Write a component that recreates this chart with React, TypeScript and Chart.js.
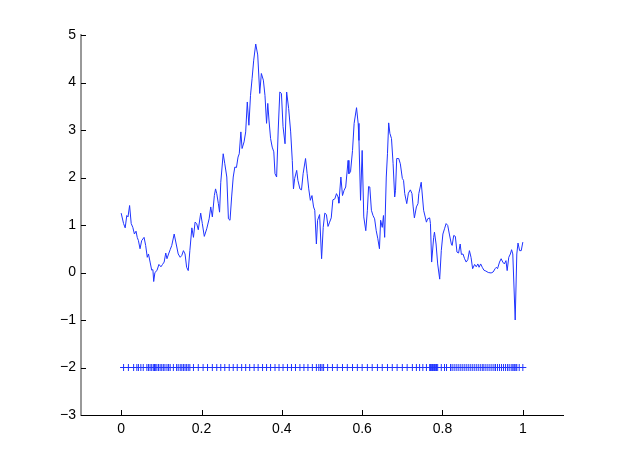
import React, { useEffect, useRef } from "react";
import { Chart, registerables } from "chart.js";

Chart.register(...registerables);

// Curve samples (x, y)
const curveX = [
  0.0, 0.006, 0.01, 0.014, 0.017, 0.021, 0.025, 0.029, 0.033, 0.037, 0.04, 0.043, 0.047, 0.051, 0.057, 0.061,
  0.065, 0.068, 0.072, 0.076, 0.079, 0.081, 0.084, 0.089, 0.094, 0.099, 0.103, 0.107, 0.111, 0.114, 0.118, 0.122,
  0.126, 0.132, 0.137, 0.142, 0.147, 0.151, 0.155, 0.159, 0.163, 0.167, 0.171, 0.176, 0.18, 0.184, 0.188, 0.192,
  0.198, 0.202, 0.207, 0.213, 0.219, 0.223, 0.227, 0.232, 0.235, 0.238, 0.242, 0.245, 0.248, 0.254, 0.258, 0.263,
  0.267, 0.271, 0.275, 0.279, 0.283, 0.287, 0.291, 0.294, 0.298, 0.301, 0.306, 0.31, 0.314, 0.318, 0.322, 0.326,
  0.33, 0.335, 0.34, 0.345, 0.349, 0.354, 0.358, 0.362, 0.365, 0.368, 0.372, 0.376, 0.38, 0.383, 0.387, 0.391,
  0.395, 0.399, 0.403, 0.408, 0.412, 0.417, 0.422, 0.426, 0.429, 0.432, 0.437, 0.44, 0.445, 0.449, 0.453, 0.455,
  0.459, 0.463, 0.467, 0.471, 0.475, 0.479, 0.482, 0.486, 0.489, 0.494, 0.499, 0.503, 0.507, 0.511, 0.515, 0.519,
  0.523, 0.527, 0.532, 0.536, 0.54, 0.542, 0.547, 0.551, 0.555, 0.559, 0.565, 0.567, 0.571, 0.576, 0.58, 0.586,
  0.59, 0.592, 0.596, 0.6, 0.604, 0.609, 0.613, 0.616, 0.619, 0.623, 0.627, 0.631, 0.635, 0.639, 0.643, 0.646,
  0.65, 0.653, 0.656, 0.66, 0.663, 0.666, 0.669, 0.673, 0.677, 0.681, 0.683, 0.686, 0.691, 0.695, 0.7, 0.703,
  0.706, 0.711, 0.715, 0.72, 0.724, 0.727, 0.73, 0.735, 0.739, 0.741, 0.747, 0.753, 0.76, 0.763, 0.768, 0.77,
  0.773, 0.778, 0.78, 0.784, 0.788, 0.793, 0.797, 0.801, 0.805, 0.809, 0.813, 0.817, 0.822, 0.824, 0.828, 0.832,
  0.836, 0.84, 0.844, 0.847, 0.851, 0.855, 0.859, 0.863, 0.867, 0.871, 0.875, 0.88, 0.884, 0.888, 0.891, 0.895,
  0.899, 0.903, 0.908, 0.914, 0.921, 0.926, 0.931, 0.934, 0.937, 0.942, 0.946, 0.95, 0.954, 0.958, 0.961, 0.965,
  0.969, 0.972, 0.975, 0.981, 0.985, 0.988, 0.992, 0.996, 1.0,
];
const curveY = [
  1.25, 1.03, 0.94, 1.2, 1.17, 1.41, 1.03, 0.95, 0.81, 0.87, 0.74, 0.67, 0.5, 0.67, 0.74, 0.57,
  0.32, 0.39, 0.22, 0.05, 0.06, -0.19, 0.0, 0.04, 0.17, 0.12, 0.17, 0.22, 0.41, 0.29, 0.39, 0.48,
  0.57, 0.81, 0.6, 0.39, 0.32, 0.36, 0.46, 0.39, 0.11, 0.04, 0.46, 0.94, 0.74, 1.06, 1.03, 0.9,
  1.25, 1.03, 0.76, 0.92, 1.13, 1.38, 1.17, 1.62, 1.76, 1.66, 1.45, 1.27, 1.9, 2.5, 2.29, 2.01,
  1.13, 1.1, 1.59, 2.01, 2.22, 2.21, 2.43, 2.5, 2.96, 2.61, 2.75, 2.96, 3.59, 3.1, 3.73, 4.09,
  4.47, 4.81, 4.58, 3.77, 4.19, 4.05, 3.73, 3.14, 3.56, 3.21, 2.82, 2.64, 2.54, 2.08, 2.01, 3.0,
  3.8, 3.77, 3.07, 2.71, 3.8, 3.45, 2.96, 2.36, 1.76, 1.98, 2.15, 1.94, 1.76, 1.74, 2.08, 2.08,
  2.4, 2.08, 1.76, 1.52, 1.62, 1.38, 1.31, 0.6, 1.1, 1.22, 0.29, 0.95, 1.25, 1.22, 0.97, 1.06,
  1.15, 1.53, 1.55, 1.66, 1.59, 1.46, 2.01, 1.62, 1.73, 1.8, 2.36, 2.08, 2.12, 2.57, 3.14, 3.47,
  3.14, 2.78, 1.52, 2.57, 1.17, 0.88, 1.31, 1.81, 1.8, 1.31, 1.2, 1.13, 0.88, 0.71, 0.5, 1.1,
  0.95, 1.2, 0.74, 2.01, 2.5, 3.15, 2.93, 2.82, 2.29, 1.59, 1.73, 2.4, 2.4, 2.29, 1.98, 1.94,
  1.66, 1.45, 1.67, 1.74, 1.66, 1.38, 1.15, 1.38, 1.45, 1.66, 1.9, 1.31, 1.06, 1.13, 1.15, 1.03,
  0.22, 0.74, 0.85, 0.6, 0.18, -0.14, 0.46, 0.81, 0.92, 1.03, 0.99, 0.81, 0.6, 0.57, 0.78, 0.76,
  0.43, 0.41, 0.6, 0.38, 0.39, 0.29, 0.22, 0.27, 0.46, 0.32, 0.08, 0.17, 0.12, 0.18, 0.11, 0.18,
  0.11, 0.05, 0.03, 0.0, -0.01, 0.01, 0.08, 0.11, 0.08, 0.22, 0.29, 0.22, 0.18, 0.25, 0.04, 0.32,
  0.39, 0.48, 0.39, -1.0, 0.39, 0.62, 0.46, 0.46, 0.64,
];

// Sample locations shown as "+" markers at a fixed level
const markerX = [
  0.006, 0.018, 0.031, 0.039, 0.043, 0.049, 0.055, 0.064, 0.068, 0.072, 0.076, 0.08, 0.083, 0.086, 0.089, 0.093,
  0.097, 0.101, 0.105, 0.109, 0.114, 0.118, 0.122, 0.13, 0.138, 0.142, 0.147, 0.151, 0.155, 0.159, 0.163, 0.167,
  0.171, 0.18, 0.192, 0.204, 0.215, 0.227,
  0.238, 0.248, 0.258, 0.269, 0.279, 0.289, 0.3, 0.31, 0.32, 0.331, 0.341, 0.352, 0.362, 0.372, 0.383, 0.393,
  0.403, 0.414, 0.424, 0.434, 0.445, 0.455, 0.465, 0.476, 0.486,
  0.492, 0.496, 0.5, 0.504, 0.514, 0.526, 0.538, 0.551, 0.563, 0.576, 0.588, 0.6, 0.613, 0.625, 0.638, 0.65,
  0.663, 0.675, 0.687, 0.7, 0.712, 0.725, 0.735, 0.743, 0.751, 0.76,
  0.768, 0.77, 0.773, 0.775, 0.778, 0.78, 0.783, 0.785, 0.788, 0.797, 0.805, 0.81,
  0.82, 0.824, 0.829, 0.834, 0.839, 0.844, 0.849, 0.854, 0.859, 0.864, 0.869, 0.874, 0.879, 0.884, 0.889, 0.894,
  0.899, 0.903, 0.908, 0.913, 0.918, 0.923, 0.928, 0.932, 0.937, 0.942, 0.947, 0.952, 0.957, 0.962, 0.966, 0.971,
  0.975, 0.978, 0.98, 0.983, 0.985, 0.991, 1.0,
];
const markerLevel = -2;

const xTickValues = [0, 0.2, 0.4, 0.6, 0.8, 1];
const yTickValues = [-3, -2, -1, 0, 1, 2, 3, 4, 5];
const xRange = [-0.1, 1.1];
const yRange = [-3, 5];

const LINE_BLUE = "#1f33ff";
const FONT = { family: "'Liberation Sans', Arial, Helvetica, sans-serif", size: 14 };

const fmt = (v: number) => {
  const r = Math.round(v * 10) / 10;
  return r < 0 ? "\u2212" + String(-r) : String(r);
};

export default function App() {
  const ref = useRef<HTMLCanvasElement>(null);

  useEffect(() => {
    document.body.style.margin = "0";
    const canvas = ref.current;
    if (!canvas) return;

    const innerTicks = {
      id: "innerTicks",
      afterDraw(chart: any) {
        const { ctx, chartArea, scales } = chart;
        ctx.save();
        ctx.strokeStyle = "#000";
        ctx.lineWidth = 1;
        ctx.beginPath();
        for (const v of xTickValues) {
          const p = Math.round(scales.x.getPixelForValue(v)) + 0.5;
          ctx.moveTo(p, chartArea.bottom);
          ctx.lineTo(p, chartArea.bottom - 5);
        }
        for (const v of yTickValues) {
          const p = Math.round(scales.y.getPixelForValue(v)) + 0.5;
          ctx.moveTo(chartArea.left, p);
          ctx.lineTo(chartArea.left + 5, p);
        }
        ctx.stroke();
        ctx.restore();
      },
    };

    const chart = new Chart(canvas, {
      type: "scatter",
      data: {
        datasets: [
          {
            data: curveX.map((x, i) => ({ x, y: curveY[i] })),
            showLine: true,
            borderColor: LINE_BLUE,
            borderWidth: 1,
            pointRadius: 0,
            tension: 0,
          },
          {
            data: markerX.map((x) => ({ x, y: markerLevel })),
            showLine: false,
            pointStyle: "cross",
            pointRadius: 3.5,
            borderColor: LINE_BLUE,
            backgroundColor: LINE_BLUE,
            pointBorderWidth: 1,
            borderWidth: 1,
          },
        ],
      },
      options: {
        animation: false,
        responsive: false,
        devicePixelRatio: 1,
        layout: { padding: { top: 35, right: 59, left: 0, bottom: 0 } },
        plugins: { legend: { display: false }, tooltip: { enabled: false } },
        scales: {
          x: {
            type: "linear",
            min: xRange[0],
            max: xRange[1],
            afterBuildTicks: (s: any) => {
              s.ticks = xTickValues.map((v) => ({ value: v }));
            },
            afterFit: (s: any) => {
              s.height = 53;
            },
            grid: { display: false, drawTicks: false },
            border: { display: true, color: "#000", width: 1 },
            ticks: {
              color: "#000",
              font: FONT,
              padding: 6,
              maxRotation: 0,
              autoSkip: false,
              callback: (v: any) => fmt(Number(v)),
            },
          },
          y: {
            type: "linear",
            min: yRange[0],
            max: yRange[1],
            afterBuildTicks: (s: any) => {
              s.ticks = yTickValues.map((v) => ({ value: v }));
            },
            afterFit: (s: any) => {
              s.width = 81;
            },
            grid: { display: false, drawTicks: false },
            border: { display: true, color: "#999", width: 2 },
            ticks: {
              color: "#000",
              font: FONT,
              padding: 5,
              autoSkip: false,
              callback: (v: any) => fmt(Number(v)),
            },
          },
        },
      },
      plugins: [innerTicks],
    } as any);

    return () => chart.destroy();
  }, []);

  return (
    <div style={{ width: 622, height: 468, background: "#fff" }}>
      <canvas ref={ref} width={622} height={468} style={{ display: "block" }} />
    </div>
  );
}
